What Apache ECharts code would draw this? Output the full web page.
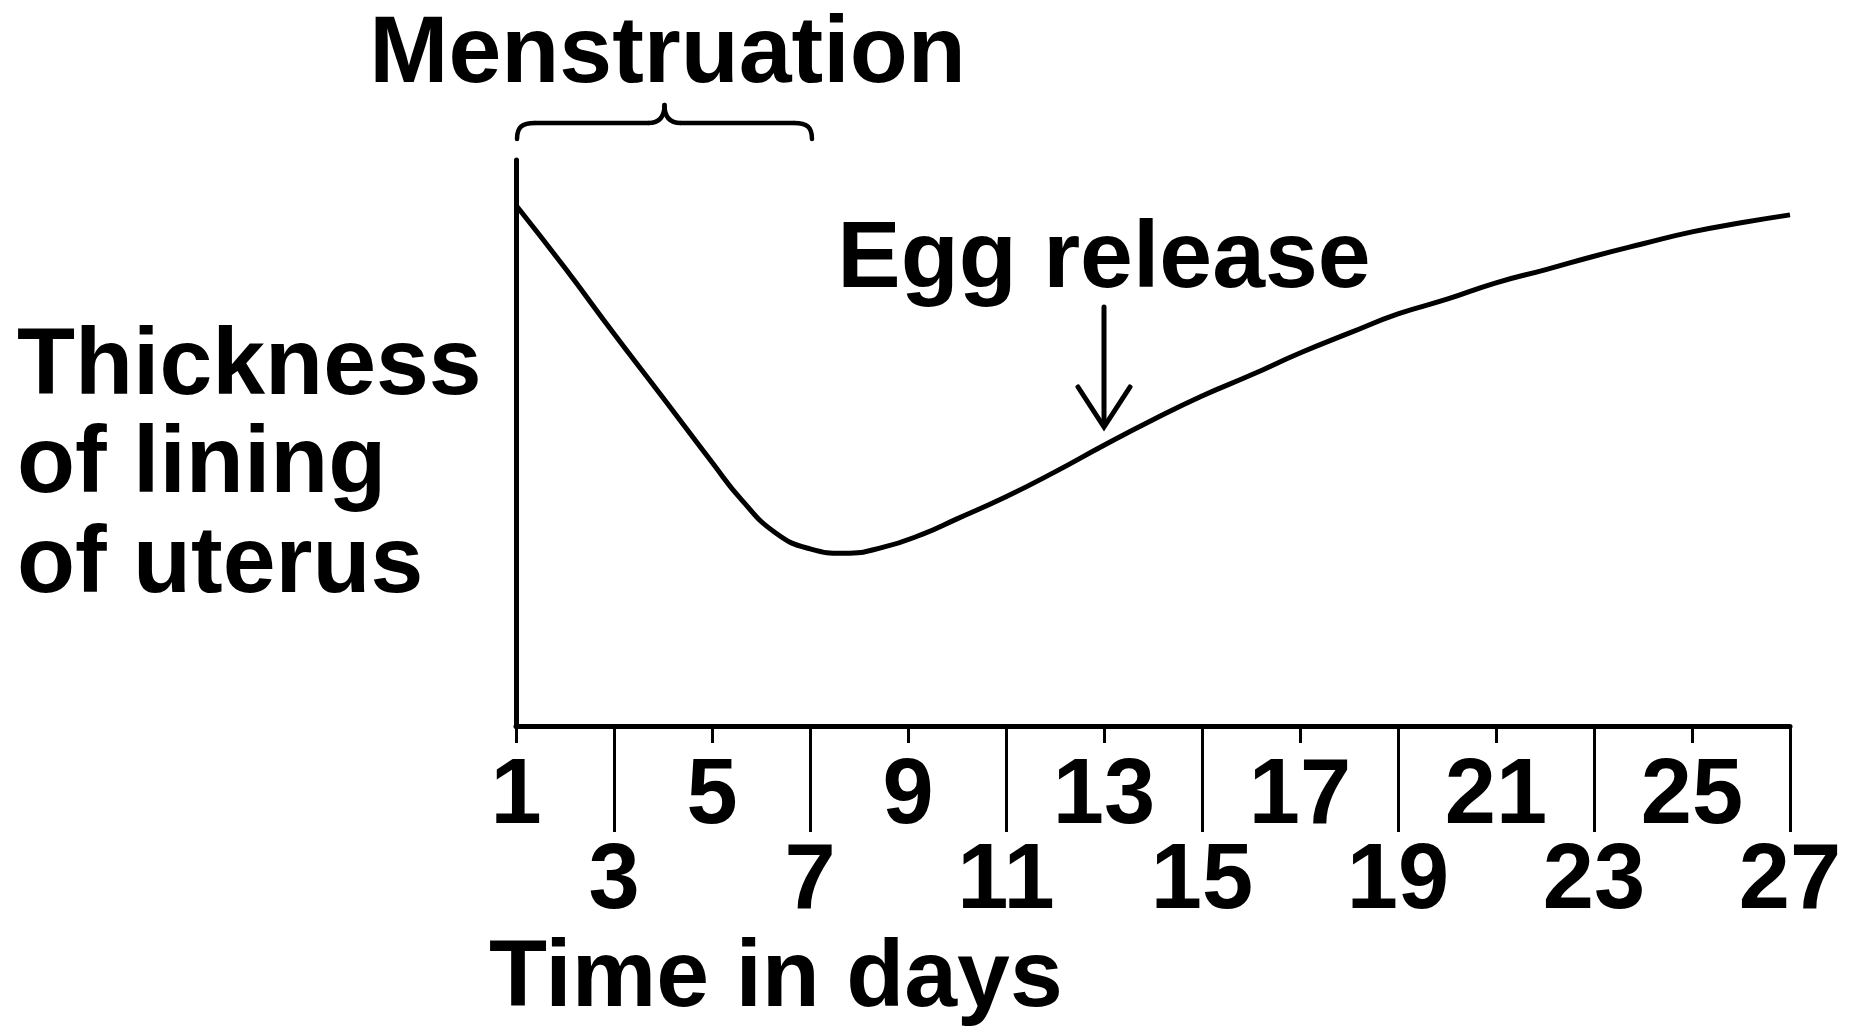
<!DOCTYPE html>
<html>
<head>
<meta charset="utf-8">
<title>Thickness of lining of uterus</title>
<script src="https://cdn.jsdelivr.net/npm/echarts@6/dist/echarts.min.js"></script>
<style>
  html, body { margin: 0; padding: 0; background: #fff; }
  #chart { width: 1856px; height: 1032px; }
</style>
</head>
<body>
<div id="chart"></div>
<script>
// day of the cycle and the relative thickness of the lining (0 = axis, 100 = top of axis)
const days = [1, 2, 3, 4, 5, 5.6, 6.3, 7, 7.7, 8.5, 9.3, 10, 11, 12, 13, 14, 15, 16, 17, 18, 19, 20, 21, 22, 23, 24, 25, 26, 27]
const thickness = [92.0, 80.9, 69.3, 58.0, 46.6, 40.0, 34.1, 31.3, 30.5, 31.6, 33.9, 36.6, 40.5, 44.9, 49.6, 54.1, 58.3, 62.0, 65.9, 69.4, 72.8, 75.4, 78.3, 80.6, 83.0, 85.2, 87.3, 88.9, 90.3]
const upperRowDays = [1, 5, 9, 13, 17, 21, 25]
const lowerRowDays = [3, 7, 11, 15, 19, 23, 27]
const menstruationDays = [1, 7]
const eggReleaseDay = 13

const font = '"Liberation Sans", Arial, Helvetica, sans-serif'
const black = '#000'

const chart = echarts.init(document.getElementById('chart'))

const tickLabel = {
  color: black,
  fontFamily: font,
  fontWeight: 'bold',
  fontSize: 92,
  lineHeight: 92,
}

const dayAxis = (rowDays, show, tickLen, margin) => ({
  type: 'value',
  min: days[0],
  max: days[days.length - 1],
  position: 'bottom',
  axisLine: { show: show, onZero: false, lineStyle: { color: black, width: 5 } },
  axisTick: { show: true, customValues: rowDays, length: tickLen, lineStyle: { color: black, width: 3 } },
  axisLabel: { customValues: rowDays, margin: margin, ...tickLabel },
  splitLine: { show: false },
})

chart.setOption({
  animation: false,
  grid: { left: 516, right: 66, top: 160, bottom: 306 },
  xAxis: [
    dayAxis(upperRowDays, true, 17, 26),
    dayAxis(lowerRowDays, false, 106, 111),
  ],
  yAxis: {
    type: 'value',
    min: 0,
    max: 100,
    axisLine: { show: true, onZero: false, lineStyle: { color: black, width: 5 } },
    axisTick: { show: false },
    axisLabel: { show: false },
    splitLine: { show: false },
  },
  series: [
    {
      type: 'line',
      xAxisIndex: 0,
      data: days.map((d, i) => [d, thickness[i]]),
      smooth: 0.5,
      symbol: 'none',
      lineStyle: { color: black, width: 5 },
    },
  ],
})

// annotations placed from the axis scale
const px = d => chart.convertToPixel({ xAxisIndex: 0 }, d)
const x1 = px(menstruationDays[0]) + 1
const x2 = px(menstruationDays[1]) + 2
const xm = (x1 + x2) / 2
const xe = px(eggReleaseDay)

const bigText = (text, x, y, align) => ({
  type: 'text',
  x: x,
  y: y,
  style: {
    text: text,
    fill: black,
    font: 'bold 95px ' + font,
    align: align,
    verticalAlign: 'middle',
  },
})

const stroke = { stroke: black, lineWidth: 4.5, lineCap: 'round', fill: null }
const arrowStroke = { stroke: black, lineWidth: 5, lineCap: 'round', lineJoin: 'miter', fill: null }
const yBar = 123, yEnd = 139, yTip = 105

chart.setOption({
  graphic: [
    bigText('Menstruation', xm + 3, 56, 'center'),
    bigText('Egg release', xe, 261, 'center'),
    bigText('Time in days', 489, 980, 'left'),
    bigText('Thickness', 17, 368, 'left'),
    bigText('of lining', 17, 466, 'left'),
    bigText('of uterus', 17, 566, 'left'),
    // curly brace over the menstruation days
    { type: 'bezierCurve', shape: { x1: x1, y1: yEnd, x2: x1 + 18, y2: yBar, cpx1: x1, cpy1: yBar + 4, cpx2: x1 + 5, cpy2: yBar }, style: stroke },
    { type: 'line', shape: { x1: x1 + 18, y1: yBar, x2: xm - 16, y2: yBar }, style: stroke },
    { type: 'bezierCurve', shape: { x1: xm - 16, y1: yBar, x2: xm, y2: yTip, cpx1: xm - 5, cpy1: yBar, cpx2: xm, cpy2: yBar - 6 }, style: stroke },
    { type: 'bezierCurve', shape: { x1: xm + 16, y1: yBar, x2: xm, y2: yTip, cpx1: xm + 5, cpy1: yBar, cpx2: xm, cpy2: yBar - 6 }, style: stroke },
    { type: 'line', shape: { x1: xm + 16, y1: yBar, x2: x2 - 18, y2: yBar }, style: stroke },
    { type: 'bezierCurve', shape: { x1: x2, y1: yEnd, x2: x2 - 18, y2: yBar, cpx1: x2, cpy1: yBar + 4, cpx2: x2 - 5, cpy2: yBar }, style: stroke },
    // arrow pointing at egg release
    { type: 'line', shape: { x1: xe, y1: 307, x2: xe, y2: 425 }, style: arrowStroke },
    { type: 'polyline', shape: { points: [[xe - 26, 387], [xe, 427], [xe + 26, 387]] }, style: arrowStroke },
  ],
})
</script>
</body>
</html>
